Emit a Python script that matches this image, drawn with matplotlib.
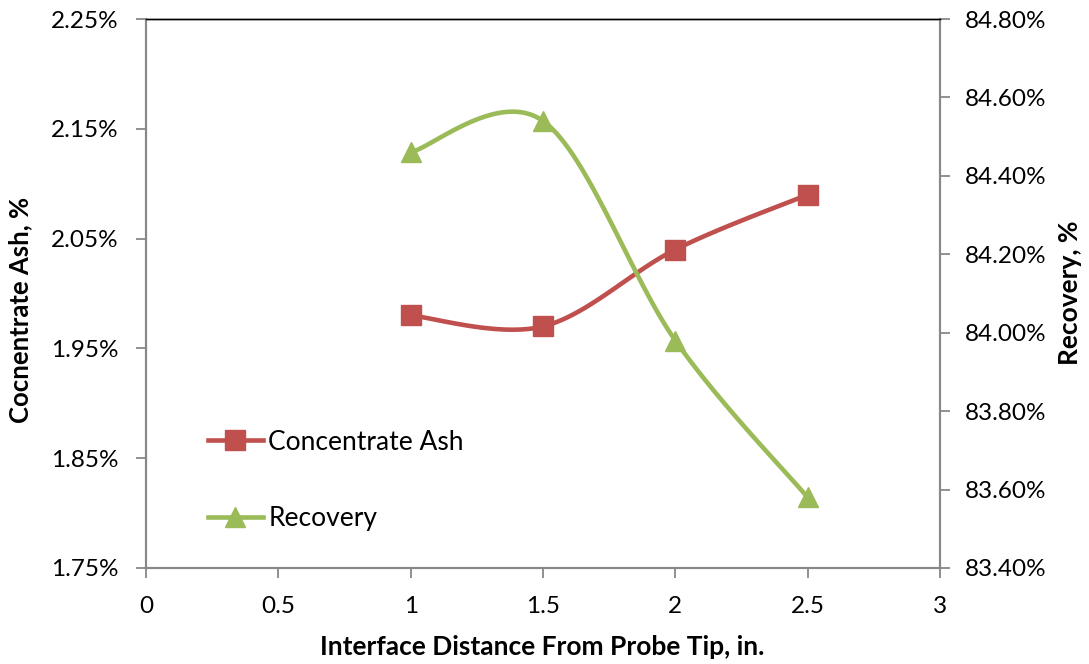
import matplotlib
matplotlib.use('Agg')
import matplotlib.pyplot as plt
import numpy as np
from matplotlib.ticker import FuncFormatter, MultipleLocator

# data
distance = [1.0, 1.5, 2.0, 2.5]
conc_ash = [1.98, 1.97, 2.04, 2.09]       # %
recovery = [84.46, 84.54, 83.98, 83.58]   # %

red = '#C0504D'
green = '#9BBB59'
spine_grey = '#888888'

plt.rcParams['font.family'] = ['Lato', 'DejaVu Sans']


def smooth(x, y, n=40):
    # excel-style smoothed line: cubic bezier with catmull-rom control points
    p = np.column_stack([x, y]).astype(float)
    pts = np.vstack([p[0], p, p[-1]])
    out = []
    for i in range(1, len(pts) - 2):
        p0, p1, p2, p3 = pts[i - 1], pts[i], pts[i + 1], pts[i + 2]
        c1 = p1 + (p2 - p0) / 6.0
        c2 = p2 - (p3 - p1) / 6.0
        t = np.linspace(0, 1, n)[:, None]
        seg = ((1 - t) ** 3) * p1 + 3 * ((1 - t) ** 2) * t * c1 + 3 * (1 - t) * t ** 2 * c2 + t ** 3 * p2
        out.append(seg if i == 1 else seg[1:])
    out = np.vstack(out)
    return out[:, 0], out[:, 1]


W, H = 1089, 664
fig = plt.figure(figsize=(W / 100, H / 100), dpi=100)
ax = fig.add_axes([146 / W, 1 - 568 / H, 794 / W, 549 / H])
ax2 = ax.twinx()

sx, sy = smooth(distance, conc_ash)
ax.plot(sx, sy, color=red, lw=3.3, solid_capstyle='round')
ax.plot(distance, conc_ash, ls='none', marker='s', ms=14, color=red)

rx, ry = smooth(distance, recovery)
ax2.plot(rx, ry, color=green, lw=3.3, solid_capstyle='round')
ax2.plot(distance, recovery, ls='none', marker='^', ms=15, color=green)

ax.set_xlim(0, 3)
ax.set_ylim(1.75, 2.25)
ax2.set_ylim(83.4, 84.8)
ax.xaxis.set_major_locator(MultipleLocator(0.5))
ax.yaxis.set_major_locator(MultipleLocator(0.1, offset=0.05))
ax2.yaxis.set_major_locator(MultipleLocator(0.2))
ax.xaxis.set_major_formatter(FuncFormatter(lambda v, p: '%g' % v))
ax.yaxis.set_major_formatter(FuncFormatter(lambda v, p: '%.2f%%' % v))
ax2.yaxis.set_major_formatter(FuncFormatter(lambda v, p: '%.2f%%' % v))

for a in (ax, ax2):
    for s in ('left', 'right', 'bottom'):
        a.spines[s].set_color(spine_grey)
        a.spines[s].set_linewidth(1.5)
    a.spines['top'].set_color('black')
    a.spines['top'].set_linewidth(1)
    a.tick_params(axis='both', length=7, width=1.3, color=spine_grey,
                  labelsize=17.5)
ax.tick_params(axis='y', pad=13)
ax2.tick_params(axis='y', pad=11)
ax.tick_params(axis='x', pad=13)

fig.text(542 / W, 1 - 647 / H, 'Interface Distance From Probe Tip, in.',
         fontsize=19, fontweight='bold', ha='center', va='center')
fig.text(20 / W, 1 - 310 / H, 'Cocnentrate Ash, %', fontsize=18.5,
         fontweight='bold', rotation=90, ha='center', va='center')
fig.text(1070 / W, 1 - 293 / H, 'Recovery, %', fontsize=19,
         fontweight='bold', rotation=90, ha='center', va='center')

h1 = plt.Line2D([], [], color=red, lw=3.3, marker='s', ms=14)
h2 = plt.Line2D([], [], color=green, lw=3.3, marker='^', ms=15)
ax2.legend([h1, h2], ['Concentrate Ash', 'Recovery'], loc='upper left',
           bbox_to_anchor=(0.061, 0.276), frameon=False, fontsize=19,
           handlelength=2.1, handletextpad=0.2, labelspacing=1.95,
           borderpad=0, numpoints=1)

fig.savefig('out.png', dpi=100)
